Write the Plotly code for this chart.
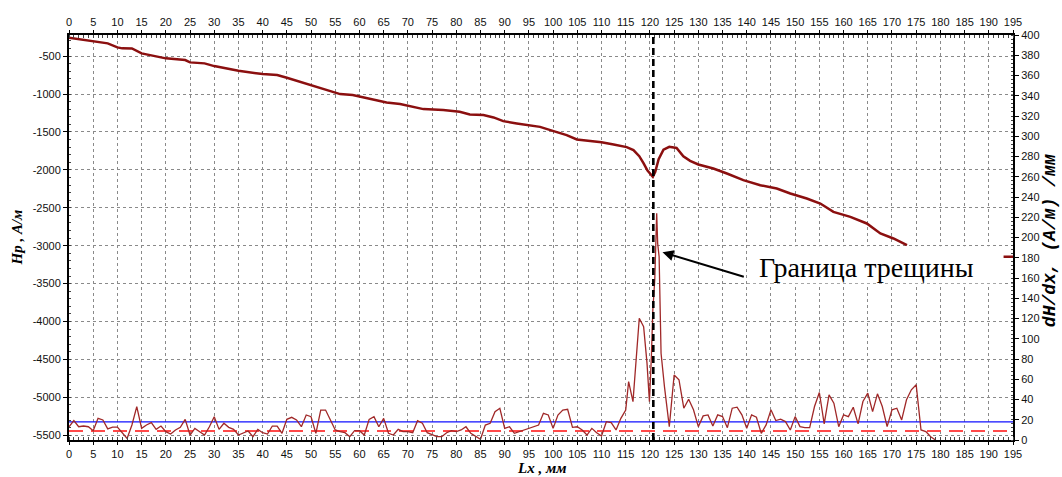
import plotly.graph_objects as go

# ---------------- data ----------------
hp_x = [0, 5, 8, 10, 11, 13, 15, 20, 24, 25, 28, 30, 35, 40, 43, 45, 47.7, 49.8, 54.6, 56,
        58.6, 61.5, 65.6, 68.4, 70.4, 73.2, 77.3, 80.7, 82.8, 85.6, 87.7, 89.7, 92.5, 97.3,
        100.1, 102.8, 104.9, 108.3, 110, 112.5, 115.2, 116.6, 117.8, 118.7, 119.5, 120.6,
        121.1, 121.8, 122.8, 124.0, 125.5, 126.9, 128.3, 130, 133.1, 135.9, 139.3, 142.8,
        146.2, 149, 152.4, 155.2, 157.9, 161.4, 164.8, 167.6, 170.3, 173.1]
hp_y = [-258, -306, -332, -385, -398, -400, -464, -530, -553, -583, -596, -632, -694, -737,
        -750, -786, -839, -883, -971, -1001, -1014, -1050, -1111, -1133, -1160, -1199, -1212,
        -1235, -1269, -1278, -1309, -1358, -1388, -1433, -1490, -1542, -1599, -1621, -1635,
        -1665, -1700, -1740, -1820, -1916, -2010, -2092, -2026, -1860, -1735, -1697, -1712,
        -1820, -1881, -1929, -1982, -2048, -2136, -2202, -2246, -2312, -2378, -2444, -2554,
        -2620, -2707, -2839, -2905, -2994]

dh_x = [0, 1, 2, 3, 4, 5, 6, 7, 8, 9, 10, 11, 12, 13, 14, 15, 16, 17, 18, 19, 20, 21, 22, 23,
        24, 25, 26, 27, 28, 29, 30, 31, 32, 33, 34, 35, 36, 37, 38, 39, 40, 41, 42, 43, 44,
        45, 46, 47, 48, 49, 50, 51, 52, 53, 54, 55, 56, 57, 58, 59, 60, 61, 62, 63, 64, 65,
        66, 67, 68, 69, 70, 71, 72, 73, 74, 75, 76, 77, 78, 79, 80, 81, 82, 83, 84, 85, 86,
        87, 88, 89, 90, 91, 92, 93, 94, 95, 96, 97, 98, 99, 100, 101, 102, 103, 104, 105,
        106, 107, 108, 109, 110, 111, 112, 113, 114, 115, 115.6, 116.5, 117.8, 118.7, 119.4,
        119.9, 120.3, 120.6, 121.0, 121.4, 121.6, 121.9, 122.3, 123.0, 124.0, 125.0, 126.0,
        127, 128, 129, 130, 131, 132, 133, 134, 135, 136, 137, 138, 139, 140, 141, 142, 143,
        144, 145, 146, 147, 148, 149, 150, 151, 152, 153, 154, 155, 156, 157, 158, 159, 160,
        161, 162, 163, 164, 165, 166, 167, 168, 169, 170, 171, 172, 173, 174, 175, 176, 177,
        178, 179]
dh_y = [13.1, 19.1, 13.1, 13.8, 13.1, 9.2, 21.4, 19.8, 11.0, 12.7, 12.7, 6.6, 1.6, 14.8, 32.9,
        11.5, 14.8, 17.1, 10.5, 13.8, 8.2, 5.9, 9.9, 12.5, 20.4, 4.9, 11.5, 8.2, 4.9, 13.1,
        23.0, 10.5, 16.5, 12.5, 10.5, 4.9, 7.2, 8.9, 3.3, 10.5, 7.2, 5.9, 13.8, 13.8, 6.6,
        20.4, 22.4, 19.8, 13.1, 24.7, 23.0, 6.6, 29.6, 29.6, 19.8, 9.9, 8.2, 7.2, 3.3, 9.2,
        9.2, 4.9, 20.4, 23.0, 13.1, 21.4, 6.6, 4.9, 10.5, 8.2, 8.2, 7.2, 19.1, 16.5, 7.2, 4.9,
        3.3, 3.3, 7.2, 9.2, 8.2, 9.9, 13.1, 6.6, 3.3, 0.7, 14.8, 16.5, 28.0, 31.3, 11.5, 13.1,
        6.6, 8.2, 9.9, 11.5, 13.1, 14.8, 26.3, 24.7, 11.5, 24.7, 29.6, 30.3, 12.5, 13.1, 9.9,
        4.9, 11.5, 7.2, 3.9, 18.1, 17.1, 9.9, 21.4, 29.6, 57.6, 37.9, 120.2, 111.9, 75.7,
        37.9, 82.3, 128.4, 158.0, 223.9, 194.2, 181.0, 85.6, 52.7, 13.2, 64.2, 59.5, 31.4,
        40.3, 29.8, 13.2, 23.8, 24.8, 13.9, 24.8, 23.1, 12.2, 31.4, 32.4, 24.8, 11.6, 24.8,
        22.5, 6.6, 14.9, 29.8, 19.2, 20.5, 18.2, 9.9, 23.1, 13.2, 12.2, 12.2, 33.1, 46.9,
        15.9, 44.6, 36.4, 13.2, 24.8, 23.1, 32.4, 15.9, 38.0, 46.3, 28.1, 45.6, 33.1, 13.2,
        29.8, 31.4, 19.8, 39.7, 49.6, 54.5, 9.9, 8.3, 3.3, 0.0]

blue_level = 18
red_level = 9
crack_x = 120.7

x_ticks = list(range(0, 200, 5))
left_ticks = list(range(-5500, 0, 500))
left_labels = [str(v) for v in left_ticks]
right_ticks = list(range(0, 420, 20))

label_text = "Граница трещины"
left_title = "Hp , А/м"
right_title = "dH/dx, (А/м) /мм"
bottom_title = "Lx , мм"

# ---------------- figure ----------------
HP_COLOR = "#8B0F0F"
DH_COLOR = "#A02828"
tickfont = dict(family="Liberation Sans, Arial", size=11, color="#111")
grid = dict(showgrid=True, gridcolor="#8a8a8a", gridwidth=1, griddash="3px,3px")

fig = go.Figure()
fig.add_trace(go.Scatter(x=hp_x, y=hp_y, mode="lines", line=dict(color=HP_COLOR, width=2.5),
                         xaxis="x", yaxis="y", showlegend=False, hoverinfo="skip"))
fig.add_trace(go.Scatter(x=[0, 195], y=[blue_level, blue_level], mode="lines",
                         line=dict(color="#1010FF", width=1.3),
                         xaxis="x", yaxis="y2", showlegend=False, hoverinfo="skip"))
fig.add_trace(go.Scatter(x=[0, 195], y=[red_level, red_level], mode="lines",
                         line=dict(color="#FF4A4A", width=2, dash="14px,8px"),
                         xaxis="x", yaxis="y2", showlegend=False, hoverinfo="skip"))
fig.add_trace(go.Scatter(x=dh_x, y=dh_y, mode="lines", line=dict(color=DH_COLOR, width=1.3),
                         xaxis="x", yaxis="y2", showlegend=False, hoverinfo="skip"))
# helper (empty) trace so the top axis is drawn
fig.add_trace(go.Scatter(x=[0, 195], y=[None, None], mode="lines", xaxis="x2", yaxis="y",
                         showlegend=False, hoverinfo="skip"))

fig.update_layout(
    width=1062, height=477,
    margin=dict(l=69, r=49, t=35, b=37, autoexpand=False),
    paper_bgcolor="white", plot_bgcolor="white",
    xaxis=dict(range=[0, 195], tickvals=x_ticks, tickfont=tickfont, showline=True,
               linecolor="black", linewidth=2, ticks="outside", ticklen=3, tickcolor="black",
               zeroline=False, automargin=False,
               minor=dict(dtick=1, ticks="inside", ticklen=3, tickcolor="#444", showgrid=False),
               **grid),
    xaxis2=dict(range=[0, 195], tickvals=x_ticks, tickfont=tickfont, overlaying="x",
                side="top", anchor="y", showline=True, linecolor="black", linewidth=2,
                ticks="outside", ticklen=3, tickcolor="black", showgrid=False, zeroline=False,
                automargin=False,
                minor=dict(dtick=1, ticks="inside", ticklen=3, tickcolor="#444")),
    yaxis=dict(range=[-5562, -222], tickvals=left_ticks, ticktext=left_labels,
               tickfont=tickfont, showline=True, linecolor="black", linewidth=2,
               ticks="outside", ticklen=4, tickcolor="black", zeroline=False, automargin=False,
               minor=dict(dtick=100, ticks="inside", ticklen=2, tickcolor="#444", showgrid=False),
               **grid),
    yaxis2=dict(range=[0, 400], tickvals=right_ticks, tickfont=tickfont, overlaying="y",
                side="right", anchor="x", showline=True, linecolor="black", linewidth=2,
                ticks="outside", ticklen=4, tickcolor="black", showgrid=False, zeroline=False,
                automargin=False,
                minor=dict(dtick=4, ticks="inside", ticklen=2, tickcolor="#444")),
)

# vertical crack boundary line
fig.add_shape(type="line", xref="x", yref="paper", x0=crack_x, x1=crack_x, y0=0, y1=1,
              line=dict(color="black", width=2.6, dash="7px,4px"), layer="above")
# white label box
fig.add_shape(type="rect", xref="x", yref="y", x0=140.1, x1=193.0, y0=-3495, y1=-3007,
              fillcolor="white", line=dict(width=0), layer="above")
# small marker on right axis
fig.add_shape(type="line", xref="paper", yref="y2", x0=0.990, x1=1.0, y0=181, y1=181,
              line=dict(color=HP_COLOR, width=2.5), layer="above")

fig.add_annotation(x=164.7, y=-3284, xref="x", yref="y", text=label_text, showarrow=False,
                   xanchor="center", yanchor="middle",
                   font=dict(family="Liberation Serif, Times New Roman", size=28, color="black"))
fig.add_annotation(x=122.6, y=-3086, xref="x", yref="y", ax=139.7, ay=-3416,
                   axref="x", ayref="y", text="", showarrow=True, arrowhead=2,
                   arrowsize=1.1, arrowwidth=2, arrowcolor="black")

title_font = dict(family="Liberation Serif, Times New Roman", size=15, color="black",
                  style="italic", weight="bold")
mono_font = dict(family="Liberation Mono, Courier New", size=18, color="black",
                 style="italic", weight="bold")
fig.add_annotation(x=-0.0561, y=0.5, xref="paper", yref="paper", text=left_title,
                   xanchor="center", yanchor="middle",
                   textangle=-90, showarrow=False, font=title_font)
fig.add_annotation(x=1.0392, y=0.491, xref="paper", yref="paper", text=right_title,
                   xanchor="center", yanchor="middle",
                   textangle=-90, showarrow=False, font=mono_font)
fig.add_annotation(x=0.501, y=-0.068, xref="paper", yref="paper", text=bottom_title,
                   xanchor="center", yanchor="middle",
                   showarrow=False, font=title_font)

fig.write_html("out.html")
